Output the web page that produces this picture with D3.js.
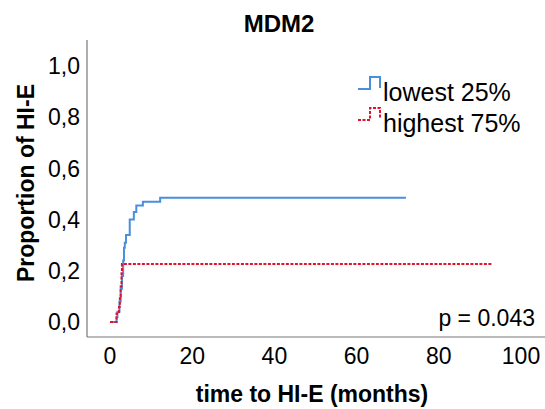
<!DOCTYPE html>
<html>
<head>
<meta charset="utf-8">
<script src="https://cdn.jsdelivr.net/npm/d3@7"></script>
<style>
  body { margin: 0; background: #fff; }
  svg { font-family: "Liberation Sans", Arial, sans-serif; }
</style>
</head>
<body>
<div id="chart"></div>
<script>
// cumulative proportion of HI-E, step curves (time in months, proportion)
const lowestTimes = [0, 1.6, 1.8, 2.3, 2.6, 2.9, 3.2, 3.4, 3.6, 3.9, 4.8, 5.8, 6.4, 8.0, 12.2, 72];
const lowestProps = [0, 0.02, 0.04, 0.08, 0.13, 0.18, 0.24, 0.29, 0.31, 0.34, 0.40, 0.43, 0.455, 0.47, 0.485, 0.485];
const highestTimes = [0, 1.6, 2.2, 2.4, 2.6, 2.8, 2.9, 93];
const highestProps = [0, 0.033, 0.06, 0.10, 0.14, 0.19, 0.227, 0.227];

const xTicks = [0, 20, 40, 60, 80, 100];
const yTicks = [0, 0.2, 0.4, 0.6, 0.8, 1.0];
const seriesNames = ["lowest 25%", "highest 75%"];
const pText = "p = 0.043";

const width = 545, height = 409;
const svg = d3.select("#chart").append("svg")
    .attr("width", width)
    .attr("height", height);

const x = d3.scaleLinear().domain([0, 100]).range([110, 521]);
const y = d3.scaleLinear().domain([0, 1]).range([322, 66]);

const axisLeft = 87, axisTop = 40, axisBottom = 337;

// axis lines
svg.append("line")
    .attr("x1", axisLeft).attr("x2", axisLeft)
    .attr("y1", axisTop).attr("y2", axisBottom)
    .attr("stroke", "#777").attr("stroke-width", 1.2);
svg.append("line")
    .attr("x1", axisLeft).attr("x2", width)
    .attr("y1", axisBottom).attr("y2", axisBottom)
    .attr("stroke", "#777").attr("stroke-width", 1.2);

// tick labels (no tick marks)
svg.append("g").selectAll("text")
    .data(xTicks)
    .enter().append("text")
    .attr("x", d => x(d))
    .attr("y", 364)
    .attr("text-anchor", "middle")
    .style("font-size", "23px")
    .text(d => d);

const fmt = d => d3.format(".1f")(d).replace(".", ",");
svg.append("g").selectAll("text")
    .data(yTicks)
    .enter().append("text")
    .attr("x", 80)
    .attr("y", d => y(d))
    .attr("dy", "0.36em")
    .attr("text-anchor", "end")
    .style("font-size", "23px")
    .text(fmt);

// titles
svg.append("text")
    .attr("x", 279).attr("y", 32)
    .attr("text-anchor", "middle")
    .style("font-size", "24px").style("font-weight", "bold")
    .text("MDM2");

svg.append("text")
    .attr("x", 312).attr("y", 402)
    .attr("text-anchor", "middle")
    .style("font-size", "23px").style("font-weight", "bold")
    .text("time to HI-E (months)");

svg.append("text")
    .attr("transform", "translate(34,183) rotate(-90)")
    .attr("text-anchor", "middle")
    .style("font-size", "23px").style("font-weight", "bold")
    .text("Proportion of HI-E");

// curves
const line = d3.line()
    .x(d => x(d[0]))
    .y(d => y(d[1]))
    .curve(d3.curveStepAfter);

const lowest = d3.zip(lowestTimes, lowestProps);
const highest = d3.zip(highestTimes, highestProps);

svg.append("path")
    .attr("d", line(lowest))
    .attr("fill", "none")
    .attr("stroke", "#4a8fdc")
    .attr("stroke-width", 2);

svg.append("path")
    .attr("d", line(highest))
    .attr("fill", "none")
    .attr("stroke", "#e3122c")
    .attr("stroke-width", 2)
    .attr("stroke-dasharray", "3,1.5");

// legend
const legend = svg.append("g");
const legendRows = [
    { name: seriesNames[0], color: "#4a8fdc", dash: null, cy: 92 },
    { name: seriesNames[1], color: "#e3122c", dash: "3,1.5", cy: 123 }
];
legendRows.forEach(r => {
    legend.append("path")
        .attr("d", `M358,${r.cy - 3} H370 V${r.cy - 15} H380 V${r.cy - 4}`)
        .attr("fill", "none")
        .attr("stroke", r.color)
        .attr("stroke-width", 2)
        .attr("stroke-dasharray", r.dash);
    legend.append("text")
        .attr("x", 383).attr("y", r.cy)
        .attr("dy", "0.36em")
        .style("font-size", "25px")
        .text(r.name);
});

svg.append("text")
    .attr("x", 535).attr("y", 326)
    .attr("text-anchor", "end")
    .style("font-size", "23px")
    .text(pText);
</script>
</body>
</html>
